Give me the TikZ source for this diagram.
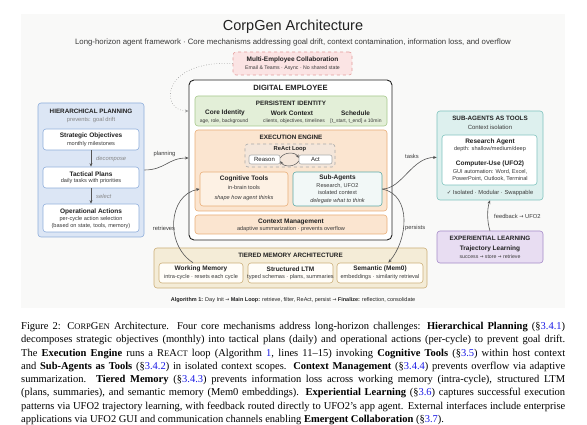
\documentclass[tikz,border=0pt]{standalone}
\usepackage{fontspec}
\setmainfont{Liberation Sans}
\newfontfamily\capfont{Liberation Serif}
\newfontfamily\symfont{DejaVu Sans}
\usetikzlibrary{arrows.meta,calc}
\definecolor{panelbg}{HTML}{F9F9F8}
\definecolor{ink}{HTML}{222222}
\definecolor{ink2}{HTML}{3A3A3A}
\definecolor{greyt}{HTML}{858585}
\definecolor{hpF}{HTML}{DCE6F5}\definecolor{hpD}{HTML}{8EAEDB}
\definecolor{piF}{HTML}{E3EFD8}\definecolor{piD}{HTML}{A7C98C}
\definecolor{eeF}{HTML}{FBE5D0}\definecolor{eeD}{HTML}{E9AE78}
\definecolor{ctF}{HTML}{FDF1E4}
\definecolor{raF}{HTML}{F4E6DA}\definecolor{raD}{HTML}{A8A8A8}
\definecolor{saF}{HTML}{F2F8F7}\definecolor{saD}{HTML}{5DA9A6}
\definecolor{satF}{HTML}{DDF0EE}\definecolor{satD}{HTML}{7FC3BE}
\definecolor{elF}{HTML}{E8DDF2}\definecolor{elD}{HTML}{A68BC9}
\definecolor{tmF}{HTML}{F4ECD7}\definecolor{tmD}{HTML}{CCAE78}
\definecolor{tmI}{HTML}{FFFDF8}
\definecolor{meF}{HTML}{FBE4E4}\definecolor{meD}{HTML}{E49C9C}
\definecolor{arrc}{HTML}{555555}
\definecolor{lnk}{rgb}{0.1,0.1,0.9}
\newcommand\mkbox[6]{\node[#2, minimum width={#5-#3}, minimum height={#6-#4}] (#1) at ({(#3+#5)/2},{(#4+#6)/2}) {};}
\newcommand\fsc[1]{{\fontsize{8.5}{10}\selectfont #1}}
\newcommand\lk[1]{\textcolor{lnk}{#1}}
\newcommand\rarr{{\symfont\scalebox{0.85}[1]{→}}}
\tikzset{
 bx/.style={draw, rounded corners=3pt, inner sep=0pt, line width=0.6pt},
 tx/.style={inner sep=0pt, text=ink},
 hdr/.style={tx, font=\bfseries\fontsize{6.3}{7}\selectfont},
 ttl/.style={tx, font=\bfseries\fontsize{6.5}{7.5}\selectfont},
 smt/.style={tx, text=ink2, font=\fontsize{5.6}{6.5}\selectfont},
 pit/.style={tx, text=ink2, font=\fontsize{5}{6}\selectfont},
 itt/.style={tx, text=ink2, font=\itshape\fontsize{5.6}{6.5}\selectfont},
 lbl/.style={tx, text=ink2, font=\fontsize{5.8}{7}\selectfont},
 conn/.style={draw=arrc, line width=0.6pt, -{Stealth[length=3.6pt,width=3pt]}},
}
\begin{document}
\begin{tikzpicture}[x=1pt,y=-1pt]
\useasboundingbox (0,0) rectangle (587,425);
\fill[white] (0,0) rectangle (587,425);
\fill[panelbg] (21,14) rectangle (565,308);
% title
\node[tx, font=\fontsize{14.5}{16}\selectfont] (title) at (293,27) {CorpGen Architecture};
\node[tx, text=ink2, font=\fontsize{7.8}{9}\selectfont] (subtitle) at (293,42) {Long-horizon agent framework · Core mechanisms addressing goal drift, context contamination, information loss, and overflow};
% multi-employee
\mkbox{me}{bx, dashed, fill=meF, draw=meD}{233}{52}{352}{75}
\node[ttl] (metitle) at (292.5,60) {Multi-Employee Collaboration};
\node[smt, font=\fontsize{5.2}{6}\selectfont] (mesub) at (292.5,68.5) {Email \& Teams · Async · No shared state};
% digital employee
\mkbox{de}{bx, rounded corners=5pt, fill=white, draw=ink, line width=0.9pt}{189}{80}{392}{240}
\node[tx, font=\bfseries\fontsize{7.6}{9}\selectfont] (detitle) at (290.5,88) {DIGITAL EMPLOYEE};
% persistent identity
\mkbox{pi}{bx, fill=piF, draw=piD}{195}{96}{387}{126}
\node[hdr] (pititle) at (291,103) {PERSISTENT IDENTITY};
\node[ttl] (core) at (225,113) {Core Identity};
\node[pit] (coresub) at (224,121) {age, role, background};
\node[ttl] (work) at (292,113) {Work Context};
\node[pit] (worksub) at (294,121) {clients, objectives, timelines};
\node[ttl] (sched) at (355.5,113) {Schedule};
\node[pit] (schedsub) at (356,121) {[t\_start, t\_end] ± 10min};
% execution engine
\mkbox{ee}{bx, fill=eeF, draw=eeD}{195}{130}{387}{211}
\node[hdr] (eetitle) at (291,137) {EXECUTION ENGINE};
\mkbox{react}{bx, dashed, fill=raF, draw=raD}{245}{144}{335}{167}
\node[tx, font=\bfseries\fontsize{5.8}{7}\selectfont] (reacttitle) at (290,149) {ReAct Loop};
\mkbox{reason}{bx, rounded corners=2pt, fill=white, draw=raD}{249}{155}{280}{164}
\node[tx, font=\fontsize{6}{7}\selectfont] at (reason) {Reason};
\mkbox{act}{bx, rounded corners=2pt, fill=white, draw=raD}{299}{155}{332}{164}
\node[tx, font=\fontsize{6}{7}\selectfont] at (act) {Act};
\mkbox{ct}{bx, fill=ctF, draw=eeD}{200}{172}{288}{206}
\node[ttl] (cttitle) at (244,179) {Cognitive Tools};
\node[smt] (ctsub) at (244,187) {in-brain tools};
\node[itt] (ctit) at (244,198) {shape how agent thinks};
\mkbox{sa}{bx, fill=saF, draw=saD}{293}{172}{382}{206}
\node[ttl] (satitle) at (337.5,177.5) {Sub-Agents};
\node[smt] (sasub1) at (337.5,186) {Research, UFO2};
\node[smt] (sasub2) at (337.5,192.5) {isolated context};
\node[itt] (sait) at (337.5,201) {delegate what to think};
\mkbox{cm}{bx, fill=eeF, draw=eeD}{195}{215}{387}{234}
\node[ttl] (cmtitle) at (291,221.5) {Context Management};
\node[smt] (cmsub) at (291,229) {adaptive summarization · prevents overflow};
% tiered memory
\mkbox{tm}{bx, fill=tmF, draw=tmD}{154}{248}{427}{288}
\node[hdr] (tmtitle) at (290.5,255) {TIERED MEMORY ARCHITECTURE};
\mkbox{wm}{bx, fill=tmI, draw=tmD}{159}{263}{243}{283}
\node[ttl] at (201,269) {Working Memory};
\node[smt] at (201,277) {intra-cycle · resets each cycle};
\mkbox{ltm}{bx, fill=tmI, draw=tmD}{248}{263}{333}{283}
\node[ttl] at (290.5,269) {Structured LTM};
\node[smt] at (290.5,277) {typed schemas · plans, summaries};
\mkbox{sem}{bx, fill=tmI, draw=tmD}{337}{263}{423}{283}
\node[ttl] at (380,269) {Semantic (Mem0)};
\node[smt] at (380,277) {embeddings · similarity retrieval};
\node[tx, font=\fontsize{5.5}{6.5}\selectfont] (algo) at (293,300) {\textbf{Algorithm 1:} Day Init \rarr{} \textbf{Main Loop:} retrieve, filter, ReAct, persist \rarr{} \textbf{Finalize:} reflection, consolidate};
% hierarchical planning
\mkbox{hp}{bx, fill=hpF, draw=hpD}{38}{103}{144}{237}
\node[hdr] (hptitle) at (91,111) {HIERARCHICAL PLANNING};
\node[tx, text=greyt, font=\fontsize{5.8}{7}\selectfont] (hpsub) at (91,120) {prevents: goal drift};
\mkbox{so}{bx, fill=white, draw=hpD}{43}{129}{139}{150}
\node[ttl] at (91,136) {Strategic Objectives};
\node[smt] at (91,144) {monthly milestones};
\mkbox{tp}{bx, fill=white, draw=hpD}{43}{167}{139}{188}
\node[ttl] at (91,174) {Tactical Plans};
\node[smt] at (91,181.5) {daily tasks with priorities};
\mkbox{oa}{bx, fill=white, draw=hpD}{43}{204}{139}{232}
\node[ttl] at (91,212) {Operational Actions};
\node[smt] at (91,219) {per-cycle action selection};
\node[smt] at (91,226) {(based on state, tools, memory)};
\node[tx, text=greyt, anchor=west, font=\itshape\fontsize{5.8}{7}\selectfont] (decl) at (96,159) {decompose};
\node[tx, text=greyt, anchor=west, font=\itshape\fontsize{5.8}{7}\selectfont] (sell) at (96,196.5) {select};
% sub-agents as tools
\mkbox{sat}{bx, fill=satF, draw=satD}{437}{111}{543}{200}
\node[hdr] (sattitle) at (490,118) {SUB-AGENTS AS TOOLS};
\node[tx, text=ink2, font=\fontsize{6}{7}\selectfont] (satsub) at (490,127) {Context isolation};
\mkbox{sati}{bx, fill=white, draw=satD}{442}{135}{537}{185}
\node[ttl] at (490,142) {Research Agent};
\node[smt] at (490,149.5) {depth: shallow/medium/deep};
\node[ttl] at (490,164) {Computer-Use (UFO2)};
\node[smt] at (490,172) {GUI automation: Word, Excel,};
\node[smt] at (490,179) {PowerPoint, Outlook, Terminal};
\node[tx, text=ink2, font=\fontsize{5.8}{7}\selectfont] (satfoot) at (490,193) {{\symfont\fontsize{5.5}{7}\selectfont ✓} Isolated · Modular · Swappable};
% experiential learning
\mkbox{el}{bx, fill=elF, draw=elD}{437}{231}{543}{263}
\node[hdr] (eltitle) at (490,238) {EXPERIENTIAL LEARNING};
\node[ttl] at (490,249) {Trajectory Learning};
\node[smt, font=\fontsize{5.2}{6}\selectfont] at (490,257) {success \rarr{} store \rarr{} retrieve};
% connector labels
\node[lbl] (lplan) at (164.5,154) {planning};
\node[lbl] (ltask) at (412,156) {tasks};
\node[lbl] (lret) at (164,228) {retrieves};
\node[lbl, anchor=west] (lpers) at (405,228) {persists};
\node[lbl, anchor=west] (lfb) at (494,216) {feedback \rarr{} UFO2};
% connectors
\draw[conn] (so.south) -- (tp.north);
\draw[conn] (tp.south) -- (oa.north);
\draw[conn] (hp.east) .. controls (165,170) and (168,158) .. ([yshift=2pt]de.west);
\draw[conn, draw=greyt!80, dotted, line width=0.6pt] (me.west) .. controls (160,60) and (160,111) .. (de.west |- pi.west);
\draw[conn] (sa.east) .. controls (402,189) and (412,157) .. ([yshift=-2pt]sat.west);
\draw[conn] (sa.east) .. controls (412,195) and (408,240) .. ([xshift=-35pt]sem.north east);
\draw[conn] ([xshift=-8pt]wm.north) .. controls (165,245) and (168,195) .. (ct.west);
\draw[conn] (el.north) .. controls (487,222) and (487,209) .. (sat.south);
\draw[conn, line width=0.5pt] ([yshift=1.5pt]reason.east) to[bend left=60] ([yshift=1.5pt]act.west);
\draw[conn, line width=0.5pt] ([yshift=-1.5pt]act.west) to[bend left=60] ([yshift=-1.5pt]reason.east);
% caption
\node[anchor=north west, inner sep=0pt, text width=544pt, align=justify, font=\capfont\fontsize{10.5}{13.3}\selectfont] (cap) at (21,322) {\hyphenpenalty=10000\tolerance=9999\emergencystretch=20pt
Figure 2: C\fsc{ORP}G\fsc{EN} Architecture. Four core mechanisms address long-horizon challenges: \textbf{Hierarchical Planning} (§\lk{3.4.1})\linebreak
decomposes strategic objectives (monthly) into tactical plans (daily) and operational actions (per-cycle) to prevent goal drift.\linebreak
The \textbf{Execution Engine} runs a R\fsc{E}A\fsc{CT} loop (Algorithm \lk{1}, lines 11–15) invoking \textbf{Cognitive Tools} (§\lk{3.5}) within host context\linebreak
and \textbf{Sub-Agents as Tools} (§\lk{3.4.2}) in isolated context scopes. \textbf{Context Management} (§\lk{3.4.4}) prevents overflow via adaptive\linebreak
summarization. \textbf{Tiered Memory} (§\lk{3.4.3}) prevents information loss across working memory (intra-cycle), structured LTM\linebreak
(plans, summaries), and semantic memory (Mem0 embeddings). \textbf{Experiential Learning} (§\lk{3.6}) captures successful execution\linebreak
patterns via UFO2 trajectory learning, with feedback routed directly to UFO2’s app agent. External interfaces include enterprise\linebreak
applications via UFO2 GUI and communication channels enabling \textbf{Emergent Collaboration} (§\lk{3.7}).\par};
\end{tikzpicture}
\end{document}
